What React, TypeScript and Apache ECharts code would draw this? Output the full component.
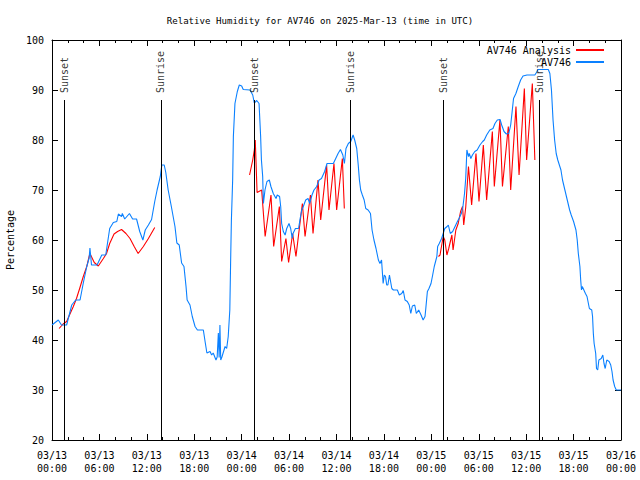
import React, { useEffect, useRef } from 'react';
import * as echarts from 'echarts';

const FONT = '"DejaVu Sans Mono", "Liberation Mono", monospace';

const titleText = 'Relative Humidity for AV746 on 2025-Mar-13 (time in UTC)';
const yAxisName = 'Percentage';
const xMin = 0;
const xMax = 72;
const xStep = 6;
const yMin = 20;
const yMax = 100;
const yStep = 10;
const startDay = 13;

const eventHours = [1.56, 13.79, 25.65, 37.75, 49.56, 61.66];
const eventLabels = ['Sunset', 'Sunrise', 'Sunset', 'Sunrise', 'Sunset', 'Sunrise'];
const eventTop = 88;

// Observations (hours since 03/13 00:00 UTC, %)
const observed: number[][] = [
  [0, 43], [0.4, 43.5], [0.8, 44], [1.2, 43], [1.85, 43], [2.5, 47], [3.0, 48], [3.55, 48],
  [3.96, 51.4], [4.4, 54.7], [4.7, 56.4], [4.8, 58.4], [5.0, 55], [5.7, 55], [6.3, 57], [6.8, 57],
  [7.3, 62.3], [7.76, 63.5], [8.2, 63.7], [8.4, 65.2], [8.8, 64.7], [8.9, 65.3], [9.2, 64.2],
  [9.8, 65.3], [10.2, 64.2], [10.7, 64.2], [11.1, 61.7], [11.5, 60], [11.8, 62], [12.2, 63],
  [12.6, 64.1], [13.0, 67.7], [13.3, 70], [13.7, 72.7], [13.9, 75], [14.2, 75], [14.4, 73.5],
  [14.7, 70], [15.1, 66.7], [15.56, 62.7], [15.8, 59.4], [16.1, 59], [16.4, 55.4], [16.7, 54.7],
  [16.96, 50.7], [17.1, 48], [17.46, 47], [17.75, 44.7], [18.1, 42.7], [18.4, 42], [19.15, 42],
  [19.4, 39.4], [19.6, 37.4], [20.0, 37.7], [20.2, 37], [20.4, 37.4], [20.75, 36], [20.9, 36.6],
  [21.05, 41.4], [21.15, 36.5], [21.25, 43], [21.35, 36], [21.5, 36.6], [21.9, 38.7], [22.1, 38.3],
  [22.3, 40.7], [22.5, 46], [22.6, 55.4], [22.7, 64], [22.86, 72], [22.95, 80.7], [23.15, 87.3],
  [23.45, 89.7], [23.7, 91], [24.0, 90.8], [24.2, 90.1], [25.05, 90], [25.4, 89], [25.6, 87.4],
  [25.9, 87.9], [26.2, 87.3], [26.4, 80.7], [26.5, 76], [26.66, 72.7], [26.75, 67.3], [26.95, 70],
  [27.2, 71.7], [27.5, 72], [27.7, 70.7], [28.0, 69.3], [28.35, 68.3], [28.5, 69], [28.8, 68.7],
  [28.94, 66.7], [29.06, 63.3], [29.27, 61.7], [29.5, 61], [29.7, 62.3], [29.99, 63.3], [30.2, 62.3],
  [30.4, 60.3], [30.5, 61.3], [30.8, 62.3], [31.2, 62.3], [31.4, 64.3], [31.6, 66], [31.8, 66.7],
  [32.1, 68], [32.4, 68.3], [32.6, 67.3], [32.9, 69], [33.15, 70], [33.5, 70.7], [33.8, 72],
  [34.1, 72.3], [34.5, 73.7], [34.8, 75.3], [35.6, 75.3], [35.9, 76.3], [36.2, 77.3], [36.5, 78.1],
  [36.8, 77], [37.0, 75.3], [37.2, 78.3], [37.5, 79.3], [37.8, 79.7], [38.1, 81], [38.3, 80],
  [38.56, 78.3], [38.75, 75], [38.9, 72], [39.06, 70], [39.27, 69], [39.5, 68], [39.7, 66.3],
  [40.0, 66], [40.3, 65.3], [40.5, 62], [40.74, 60], [41.0, 58.3], [41.3, 56], [41.5, 55.3],
  [41.7, 56], [41.9, 51.3], [42.05, 53], [42.2, 52.7], [42.35, 51], [42.5, 51], [42.7, 53],
  [43.0, 50.3], [43.2, 50], [43.7, 50], [43.95, 49], [44.25, 49.3], [44.45, 49.9], [44.67, 48],
  [44.96, 47.7], [45.2, 47], [45.4, 45.3], [45.6, 46.8], [45.9, 47], [46.1, 45.3], [46.4, 46],
  [46.7, 45], [46.96, 44], [47.2, 44.7], [47.3, 46.3], [47.5, 49.7], [47.7, 50.3], [47.96, 51.3],
  [48.17, 53], [48.37, 54.7], [48.7, 56.7], [48.8, 58.7], [49.0, 59.3], [49.3, 60.3], [49.5, 61.3],
  [49.7, 62.3], [50.0, 62.7], [50.15, 63], [50.4, 61.3], [50.7, 61.7], [51.0, 62.7], [51.3, 63.7],
  [51.5, 64.3], [51.8, 65.3], [52.0, 66.7], [52.2, 69.3], [52.35, 72.3], [52.5, 78], [52.7, 76.7],
  [52.8, 77.3], [53.0, 76.3], [53.2, 77], [53.5, 77.7], [53.8, 78], [54.15, 79], [54.5, 79.7],
  [54.7, 80], [55.0, 81], [55.4, 82], [55.8, 82.3], [56.05, 83.3], [56.35, 84], [56.7, 84.1],
  [56.9, 83], [57.2, 81.7], [57.5, 81.2], [57.8, 81.3], [58.04, 83], [58.2, 85.3], [58.4, 88.3],
  [58.7, 89.3], [59.0, 90.7], [59.3, 92], [59.6, 92.8], [60.1, 93], [61.1, 93], [61.3, 93.5],
  [61.5, 94.1], [62.8, 94.1], [63.0, 93.3], [63.2, 90], [63.4, 84], [63.6, 80], [63.8, 77.3],
  [64.0, 76], [64.4, 74], [64.6, 72], [64.9, 70], [65.2, 68], [65.5, 66], [65.7, 65], [66.0, 63.7],
  [66.3, 62], [66.46, 60], [66.6, 57.3], [66.8, 54.7], [66.9, 52], [67.0, 50], [67.1, 50.7],
  [67.3, 50], [67.5, 49.3], [67.7, 48.7], [68.0, 46.3], [68.3, 46], [68.4, 44.7], [68.5, 41.3],
  [68.6, 39.3], [68.8, 37.3], [68.9, 34.3], [69.05, 34], [69.2, 36], [69.5, 36.3], [69.7, 37],
  [69.85, 35.3], [70.0, 34.3], [70.2, 36], [70.5, 35.7], [70.7, 35], [70.86, 33.7], [71.0, 32],
  [71.2, 30.7], [71.4, 30], [72, 30],
];

// Analysis runs
const analysisDay1: number[][] = [
  [0.9, 42.3], [1.4, 43.2], [1.85, 43.7], [2.3, 45.3], [2.7, 46.7], [3.1, 48.3], [3.5, 50.3],
  [3.96, 52.7], [4.4, 54.7], [4.7, 56.7], [4.8, 57.3], [5.35, 55.5], [5.86, 54.8], [6.5, 56.3],
  [6.9, 57.3], [7.3, 59.3], [7.85, 61.2], [8.3, 61.7], [8.8, 62.1], [9.36, 61.3], [9.87, 60.3],
  [10.4, 58.7], [10.9, 57.3], [11.56, 58.7], [12.2, 60.3], [13.0, 62.5],
];
const analysisDay2: number[][] = [
  [25.0, 73], [25.4, 76], [25.6, 78], [25.72, 80], [25.95, 69.5], [26.53, 70], [26.97, 60.7],
  [27.71, 69], [28.05, 58.7], [28.77, 66.7], [29.06, 55.7], [29.6, 60.3], [29.94, 55.5],
  [30.45, 61.3], [30.87, 56.7], [31.68, 67.3], [32.02, 60.7], [32.7, 69], [33.03, 61.3],
  [33.66, 72], [34.0, 64], [34.75, 75], [35.05, 66], [35.68, 75.3], [36.02, 66], [36.74, 76.3],
  [36.99, 66.3],
];
const analysisDay3: number[][] = [
  [48.9, 56.7], [49.1, 57], [49.5, 60.7], [49.7, 60], [49.97, 57], [50.2, 58.3], [50.6, 61],
  [50.75, 58], [51.1, 62], [51.4, 63.3], [51.7, 65.7], [51.95, 66.7], [52.1, 63], [52.35, 66.5],
  [52.7, 74.7], [53.1, 67], [53.65, 77.3], [54.03, 67.7], [54.58, 79], [55.0, 68], [55.72, 81.7],
  [55.97, 70.7], [56.68, 84], [57.0, 70.7], [57.74, 82.7], [58.04, 70], [58.71, 86.7], [59.1, 73],
  [59.77, 90.3], [60.06, 76], [60.78, 91.3], [61.1, 76],
];

const pad = (n: number) => (n < 10 ? '0' + n : '' + n);
const fmtX = (h: number) => {
  const day = startDay + Math.floor(h / 24);
  const hh = Math.round(h % 24);
  return `03/${pad(day)}\n${pad(hh)}:00`;
};

const RED = '#ff0000';
const BLUE = '#0a80ff';

export default function App() {
  const ref = useRef<HTMLDivElement>(null);
  useEffect(() => {
    if (!ref.current) return;
    const chart = echarts.init(ref.current, undefined, { renderer: 'svg' });
    const baseX = {
      type: 'value' as const,
      min: xMin,
      max: xMax,
      interval: xStep,
      splitLine: { show: false },
      axisLine: { show: true, onZero: false, lineStyle: { color: '#000', width: 1 } },
      axisTick: { show: true, inside: true, length: 6, lineStyle: { color: '#000' } },
      minorTick: { show: true, splitNumber: 3, length: 3, lineStyle: { color: '#000' } },
    };
    const baseY = {
      type: 'value' as const,
      min: yMin,
      max: yMax,
      interval: yStep,
      splitLine: { show: false },
      axisLine: { show: true, onZero: false, lineStyle: { color: '#000', width: 1 } },
      axisTick: { show: true, inside: true, length: 6, lineStyle: { color: '#000' } },
    };
    const redSeries = [analysisDay1, analysisDay2, analysisDay3].map((d) => ({
      name: 'AV746 Analysis',
      type: 'line' as const,
      data: d,
      showSymbol: false,
      symbol: 'none',
      lineStyle: { color: RED, width: 1.1 },
      itemStyle: { color: RED },
      z: 2,
    }));
    chart.setOption({
      animation: false,
      title: {
        text: titleText,
        left: 'center',
        top: 11,
        textStyle: { fontFamily: FONT, fontSize: 9.1, fontWeight: 'normal', color: '#000' },
      },
      legend: {
        data: ['AV746 Analysis', 'AV746'],
        orient: 'vertical',
        right: 30,
        top: 39,
        align: 'right',
        itemWidth: 28,
        itemHeight: 12,
        itemGap: 0,
        itemStyle: { opacity: 0 },
        textStyle: { fontFamily: FONT, fontSize: 10, color: '#000', lineHeight: 12 },
      },
      grid: { left: 52, right: 19, top: 40, bottom: 40, outerBoundsMode: 'none', containLabel: false },
      xAxis: [
        {
          ...baseX,
          position: 'bottom',
          axisLabel: {
            formatter: fmtX,
            fontFamily: FONT,
            fontSize: 10,
            color: '#000',
            lineHeight: 13,
            margin: 9,
          },
        },
        { ...baseX, position: 'top', axisLabel: { show: false } },
      ],
      yAxis: [
        {
          ...baseY,
          position: 'left',
          name: yAxisName,
          nameLocation: 'middle',
          nameGap: 36,
          nameTextStyle: { fontFamily: FONT, fontSize: 10, color: '#000' },
          axisLabel: { fontFamily: FONT, fontSize: 10, color: '#000', margin: 8 },
        },
        { ...baseY, position: 'right', axisLabel: { show: false } },
      ],
      series: [
        ...redSeries,
        {
          name: 'AV746',
          type: 'line',
          data: observed,
          showSymbol: false,
          symbol: 'none',
          lineStyle: { color: BLUE, width: 1.1 },
          itemStyle: { color: BLUE },
          z: 3,
        },
        {
          name: 'sun',
          type: 'scatter',
          data: eventHours.map((h, i) => ({ value: [h, eventTop], name: eventLabels[i] })),
          symbolSize: 0,
          silent: true,
          z: 4,
          label: {
            show: true,
            formatter: (p: any) => p.name,
            position: 'top',
            distance: 7,
            rotate: 90,
            align: 'left',
            verticalAlign: 'middle',
            fontFamily: FONT,
            fontSize: 10,
            color: '#000',
          },
          markLine: {
            silent: true,
            symbol: 'none',
            label: { show: false },
            lineStyle: { color: '#000', width: 1, type: 'solid' },
            data: eventHours.map((h) => [{ coord: [h, eventTop] }, { coord: [h, yMin] }]),
          },
        },
      ],
    });
    return () => chart.dispose();
  }, []);
  return (
    <div
      ref={ref}
      style={{ position: 'fixed', left: 0, top: 0, width: 640, height: 480, background: '#fff' }}
    />
  );
}
